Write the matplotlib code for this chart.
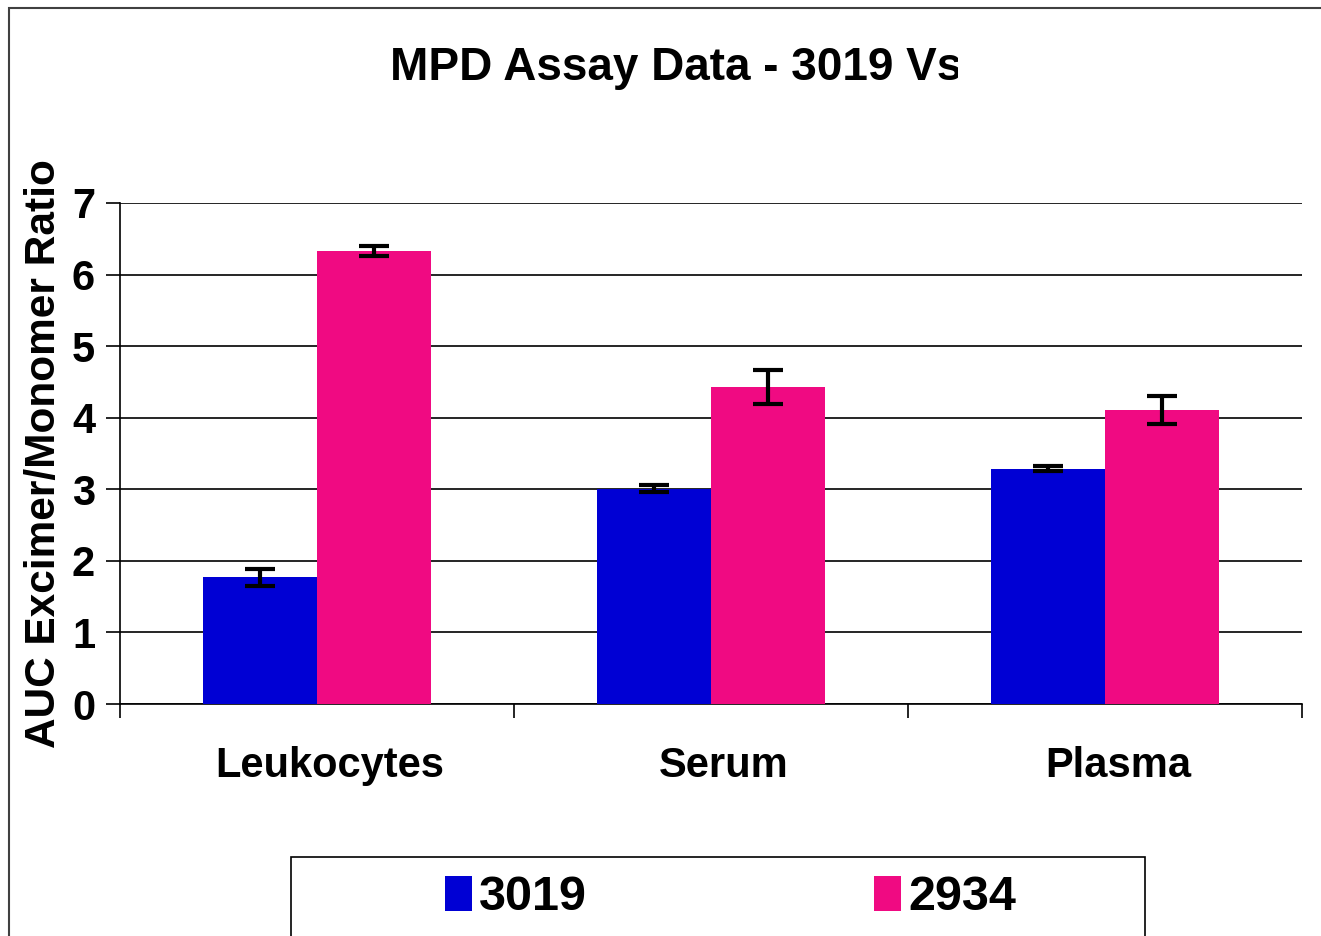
import matplotlib
matplotlib.use("Agg")
import matplotlib.pyplot as plt
from matplotlib.patches import Patch, Rectangle
from matplotlib.transforms import Bbox
import numpy as np

# data
categories = ['Leukocytes', 'Serum', 'Plasma']
series_names = ['3019', '2934']
vals_3019 = [1.77, 3.01, 3.29]
err_3019 = [0.12, 0.05, 0.04]
vals_2934 = [6.33, 4.43, 4.11]
err_2934 = [0.07, 0.24, 0.20]
yticks = [0, 1, 2, 3, 4, 5, 6, 7]
title = 'MPD Assay Data - 3019 Vs 2934'
ylabel = 'AUC Excimer/Monomer Ratio'

blue = '#0000D4'
pink = '#F00A82'

plt.rcParams['font.family'] = ['Liberation Sans', 'DejaVu Sans']
plt.rcParams['font.weight'] = 'bold'

W, H = 1321, 936
fig = plt.figure(figsize=(W / 100, H / 100), dpi=100)

# outer chart frame (runs off right and bottom)
fig.patches.append(Rectangle((9 / W, -0.1), 1.2, 1 - 8 / H + 0.1, transform=fig.transFigure,
                             fill=False, edgecolor='#404040', linewidth=1.5))

ax = fig.add_axes([120 / W, 1 - 704 / H, (1302 - 120) / W, (704 - 203) / H])

x = np.arange(len(categories)) + 0.5
w = 0.29
ekw = dict(elinewidth=3, capthick=3, ecolor='black', capsize=11)
for vals, errs, col, off in [(vals_3019, err_3019, blue, -w / 2),
                             (vals_2934, err_2934, pink, w / 2)]:
    bc = ax.bar(x + off, vals, w, color=col, yerr=errs, error_kw=ekw, zorder=3)
    eb = bc.errorbar
    for ln in eb.lines[1]:
        ln.set_solid_capstyle('round')
    for lc in eb.lines[2]:
        lc.set_capstyle('round')

ax.set_xlim(0, 3)
ax.set_ylim(0, 7)
ax.set_yticks(yticks)
ax.yaxis.grid(True, color='black', linewidth=1.2, zorder=0)
ax.set_axisbelow(True)
for s in ['top', 'right']:
    ax.spines[s].set_visible(False)
for s in ['left', 'bottom']:
    ax.spines[s].set_linewidth(1.2)

ax.set_xticks([0, 1, 2, 3])
ax.set_xticklabels([])
# category names sit a little right of the group centre in the original
ax.set_xticks(x + 0.033, minor=True)
ax.set_xticklabels(categories, minor=True, fontsize=30, fontweight='bold')
ax.tick_params(axis='x', which='minor', length=0, pad=30)
ax.tick_params(axis='x', which='major', length=10, width=1.2, direction='out')
ax.tick_params(axis='y', length=10, width=1.2, direction='out', labelsize=30, pad=8)
for t in ax.get_yticklabels():
    t.set_fontweight('bold')
ax.set_ylabel(ylabel, fontsize=30.5, fontweight='bold', labelpad=6)

# title, cut off at the right like the original
tt = fig.text(390 / W, 1 - 80 / H, title, fontsize=33, fontweight='bold',
              ha='left', va='baseline')
tt.set_clip_box(Bbox([[0, 0], [958, H]]))
tt.set_clip_on(True)

# legend box (runs off bottom)
fig.patches.append(Rectangle((291 / W, -0.1), (1145 - 291) / W, 1 - 857 / H + 0.1,
                             transform=fig.transFigure, fill=False,
                             edgecolor='black', linewidth=1.2))
handles = [Patch(facecolor=blue, label=series_names[0]),
           Patch(facecolor=pink, label=series_names[1])]
fig.legend(handles=handles, loc='center', bbox_to_anchor=(730.5 / W, 1 - 898 / H),
           ncol=2, frameon=False, columnspacing=5.9,
           handlelength=0.55, handleheight=0.7, handletextpad=0.15,
           prop={'weight': 'bold', 'size': 35})

fig.savefig('out.png', dpi=100)
